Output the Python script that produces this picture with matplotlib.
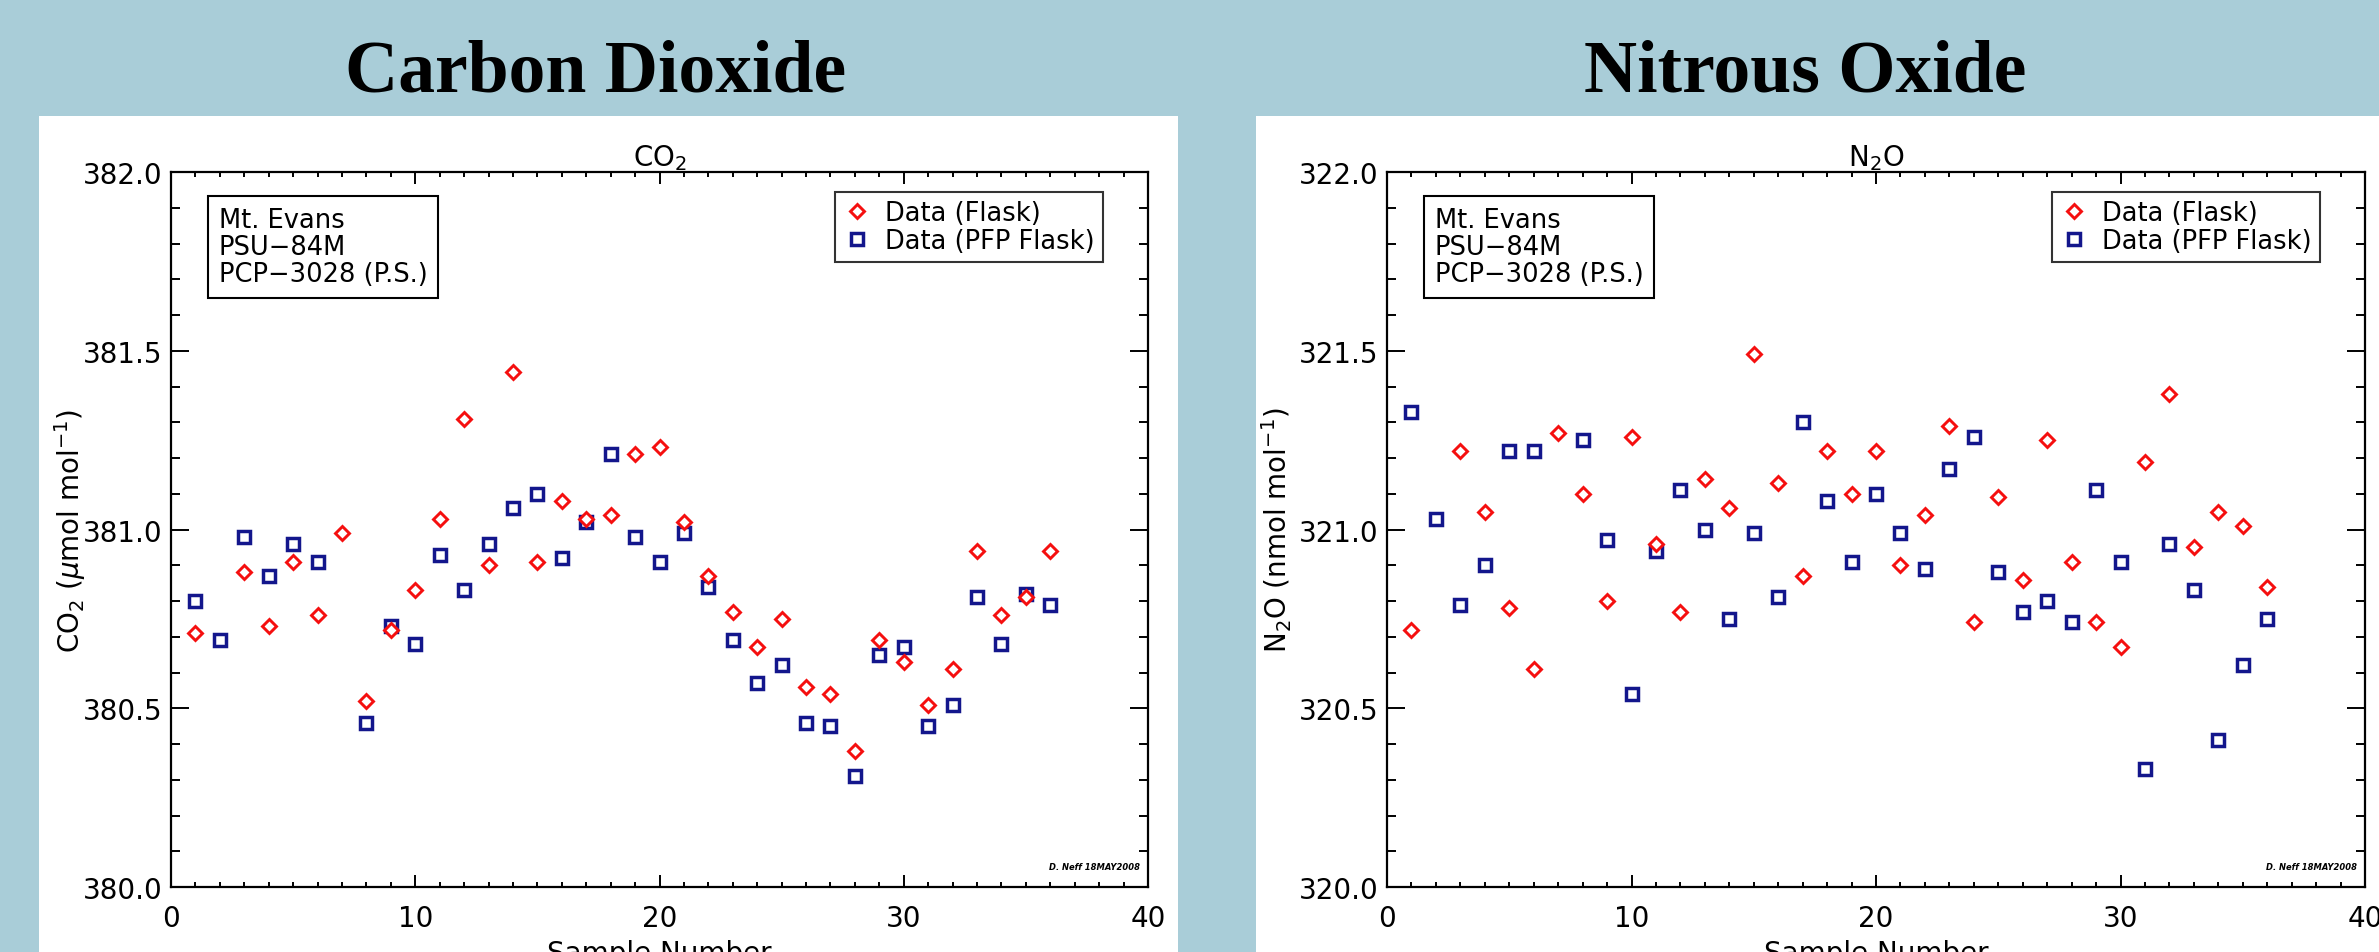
#!/usr/bin/env python3
"""
Mt. Evans flask comparison: CO2 and N2O, Flask vs PFP Flask per sample.
"""

import numpy as np
import matplotlib
matplotlib.use("Agg")
import matplotlib.pyplot as plt
from matplotlib.patches import Rectangle

nan = np.nan

# Sample numbers 1..36
samples = list(range(1, 37))

# CO2 (umol mol-1)
co2_flask = [380.71, nan, 380.88, 380.73, 380.91, 380.76, 380.99, 380.52, 380.72, 380.83,
             381.03, 381.31, 380.90, 381.44, 380.91, 381.08, 381.03, 381.04, 381.21, 381.23,
             381.02, 380.87, 380.77, 380.67, 380.75, 380.56, 380.54, 380.38, 380.69, 380.63,
             380.51, 380.61, 380.94, 380.76, 380.81, 380.94]
co2_pfp = [380.80, 380.69, 380.98, 380.87, 380.96, 380.91, nan, 380.46, 380.73, 380.68,
           380.93, 380.83, 380.96, 381.06, 381.10, 380.92, 381.02, 381.21, 380.98, 380.91,
           380.99, 380.84, 380.69, 380.57, 380.62, 380.46, 380.45, 380.31, 380.65, 380.67,
           380.45, 380.51, 380.81, 380.68, 380.82, 380.79]

# N2O (nmol mol-1)
n2o_flask = [320.72, nan, 321.22, 321.05, 320.78, 320.61, 321.27, 321.10, 320.80, 321.26,
             320.96, 320.77, 321.14, 321.06, 321.49, 321.13, 320.87, 321.22, 321.10, 321.22,
             320.90, 321.04, 321.29, 320.74, 321.09, 320.86, 321.25, 320.91, 320.74, 320.67,
             321.19, 321.38, 320.95, 321.05, 321.01, 320.84]
n2o_pfp = [321.33, 321.03, 320.79, 320.90, 321.22, 321.22, nan, 321.25, 320.97, 320.54,
           320.94, 321.11, 321.00, 320.75, 320.99, 320.81, 321.30, 321.08, 320.91, 321.10,
           320.99, 320.89, 321.17, 321.26, 320.88, 320.77, 320.80, 320.74, 321.11, 320.91,
           320.33, 320.96, 320.83, 320.41, 320.62, 320.75]

panel_titles = ["Carbon Dioxide", "Nitrous Oxide"]
plot_titles = [r"CO$_2$", r"N$_2$O"]
y_labels = [r"CO$_2$ ($\mu$mol mol$^{-1}$)", r"N$_2$O (nmol mol$^{-1}$)"]
y_ranges = [(380.0, 382.0), (320.0, 322.0)]
info_lines = ["Mt. Evans", "PSU\u221284M", "PCP\u22123028 (P.S.)"]
legend_labels = ["Data (Flask)", "Data (PFP Flask)"]
signature = "D. Neff 18MAY2008"

BG = "#a9cdd8"
RED = "#f50f0f"
NAVY = "#13168c"

W, H = 2379, 953
FS = 20  # axis text size


def fx(px):
    return px / W


def fy(py):
    # pixel rows measured from top
    return 1 - py / H


def draw_panel(fig, ax, flask, pfp, title, ylabel, yr, ylabel_x):
    x = np.array(samples)
    ax.plot(x, pfp, ls="none", marker="s", ms=8.8, mew=2.5, mec=NAVY, mfc="white",
            label=legend_labels[1], zorder=3)
    ax.plot(x, flask, ls="none", marker="D", ms=7.0, mew=2.1, mec=RED, mfc="white",
            label=legend_labels[0], zorder=4)

    ax.set_xlim(0, 40)
    ax.set_ylim(*yr)
    ax.set_xticks([0, 10, 20, 30, 40])
    ax.set_xticks(np.arange(0, 41, 1), minor=True)
    ax.set_yticks(np.arange(yr[0], yr[1] + 0.01, 0.5))
    ax.set_yticks(np.arange(yr[0], yr[1] + 0.01, 0.1), minor=True)
    ax.yaxis.set_major_formatter(matplotlib.ticker.FormatStrFormatter("%.1f"))

    ax.tick_params(which="both", direction="in", top=True, right=True,
                   width=1.4, labelsize=FS, color="black")
    ax.tick_params(axis="x", which="major", length=8.6, pad=12)
    ax.tick_params(axis="x", which="minor", length=3.8)
    ax.tick_params(axis="y", which="major", length=13, pad=6)
    ax.tick_params(axis="y", which="minor", length=6.5)
    for sp in ax.spines.values():
        sp.set_linewidth(1.6)

    ax.set_title(title, fontsize=FS, pad=4)
    ax.set_xlabel("Sample Number", fontsize=FS, labelpad=5)
    ax.set_ylabel(ylabel, fontsize=FS)
    ax.yaxis.set_label_coords(ylabel_x, 0.5)

    # station / instrument box
    ax.text(0.049, 0.951, "\n".join(info_lines), transform=ax.transAxes,
            fontsize=18.5, va="top", ha="left", linespacing=1.06, zorder=5,
            bbox=dict(boxstyle="square,pad=0.42", fc="white", ec="black", lw=1.5))

    handles, labels = ax.get_legend_handles_labels()
    leg = ax.legend(handles[::-1], labels[::-1], loc="upper right",
                    bbox_to_anchor=(0.954, 0.972), fontsize=18.5, frameon=True,
                    fancybox=False, edgecolor="black", borderpad=0.32,
                    labelspacing=0.05, handletextpad=0.55, handlelength=1.1,
                    borderaxespad=0.0)
    leg.get_frame().set_linewidth(1.5)

    ax.text(0.992, 0.022, signature, transform=ax.transAxes, fontsize=6,
            fontweight="bold", style="italic", ha="right", va="bottom")


def main():
    fig = plt.figure(figsize=(W / 100, H / 100), dpi=100)
    fig.patch.set_facecolor(BG)

    # white slide panels, kept behind the axes
    fig.patches.append(Rectangle((fx(39), 0), fx(1178 - 39), fy(117), transform=fig.transFigure,
                                 fc="white", ec="none", zorder=-10))
    fig.patches.append(Rectangle((fx(1256), 0), 1 - fx(1256), fy(117), transform=fig.transFigure,
                                 fc="white", ec="none", zorder=-10))

    # slide headings
    for cx, txt in zip([596, 1805], panel_titles):
        fig.text(fx(cx), fy(92), txt, ha="center", va="baseline", fontsize=53,
                 fontweight="bold", family="Liberation Serif")

    ax1 = fig.add_axes([fx(171), fy(888), fx(1148 - 171), (888 - 173) / H])
    ax2 = fig.add_axes([fx(1387), fy(888), fx(2365 - 1387), (888 - 173) / H])
    for ax in (ax1, ax2):
        ax.set_zorder(5)
        ax.set_facecolor("white")

    draw_panel(fig, ax1, co2_flask, co2_pfp, plot_titles[0], y_labels[0], y_ranges[0], -0.085)
    draw_panel(fig, ax2, n2o_flask, n2o_pfp, plot_titles[1], y_labels[1], y_ranges[1], -0.095)

    fig.savefig("out.png", dpi=100, facecolor=fig.get_facecolor())


if __name__ == "__main__":
    main()
